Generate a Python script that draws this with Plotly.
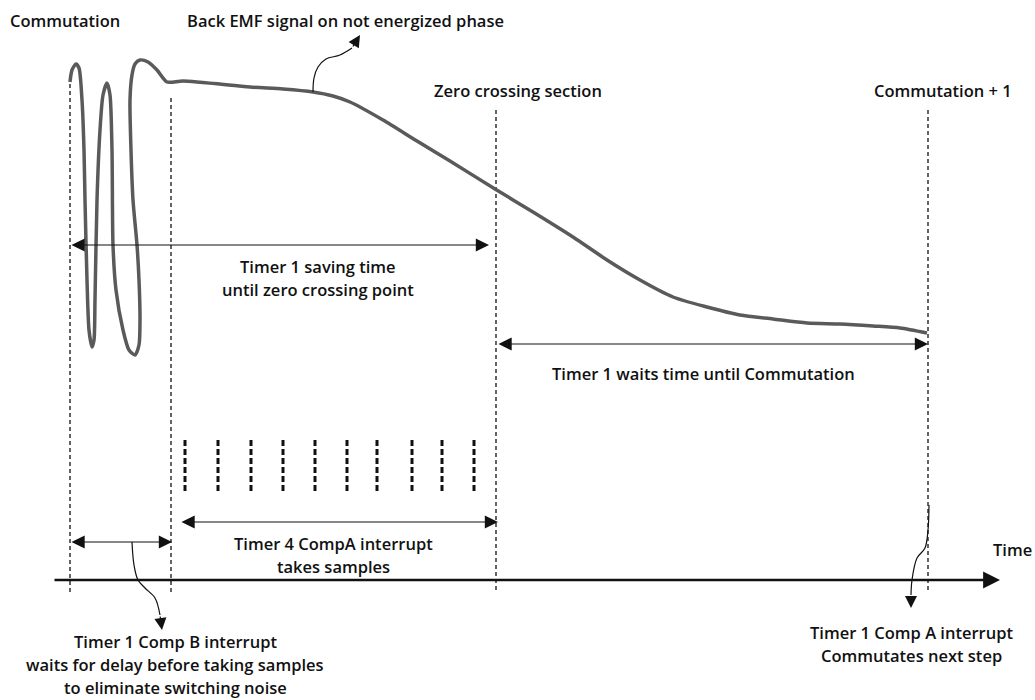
import plotly.graph_objects as go

# Back EMF curve on the not energized phase (diagram pixel space, y down)
curve_x = [70, 72, 76, 79, 82, 84, 85, 87, 89, 92, 94, 95, 97, 100, 103, 107, 110, 112, 113, 116,
           123, 129, 135, 139, 140, 139, 137, 133, 131, 130, 132, 135, 140, 148, 157, 167,
           183, 250, 283, 313, 333, 350, 383, 417, 450, 495, 533, 573, 607, 640, 673, 707,
           740, 773, 807, 840, 873, 900, 927]
curve_y = [82, 70, 64, 68, 100, 150, 200, 280, 330, 347, 340, 300, 200, 130, 95, 83, 95, 150, 245, 290,
           330, 350, 355, 345, 320, 280, 245, 200, 150, 100, 75, 64, 60, 62, 70, 82,
           81, 87, 89, 92, 96, 102, 120, 141, 161, 189, 212, 237, 260, 280, 297, 307,
           315, 319, 323, 324, 326, 328, 333]

# vertical event markers: commutation, end of delay, zero crossing, commutation + 1
event_x = [70, 171, 496, 928]
event_top = [84, 98, 110, 110]
event_bottom = 592

# sample instants of Timer 4 CompA
sample_x = [185, 218, 251, 283, 315, 347, 377, 412, 442, 474]
sample_top, sample_bottom = 440, 493

# time axis
axis_y = 580
axis_start, axis_end = 53, 1000

# double headed spans: (x0, x1, y)
spans = [(70, 489, 245), (497, 928, 344), (180, 498, 522), (70, 172, 542)]

# curly leader lines
emf_lead_x = [313, 314, 318, 326, 340, 352, 360]
emf_lead_y = [92, 78, 67, 59, 55, 48, 35]
compb_lead_x = [132, 134, 138, 145, 155, 160, 162]
compb_lead_y = [542, 565, 580, 588, 598, 615, 630]
compa_lead_x = [929, 928, 925, 917, 912, 911, 911]
compa_lead_y = [505, 530, 548, 558, 580, 595, 608]

# text lines: (text, x, y, anchor)
labels = [
    ("Commutation", 8, 20, "left"),
    ("Back EMF signal on not energized phase", 345, 20, "center"),
    ("Zero crossing section", 518, 90, "center"),
    ("Commutation + 1", 943, 90, "center"),
    ("Timer 1 saving time", 318, 266, "center"),
    ("until zero crossing point", 318, 289, "center"),
    ("Timer 1 waits time until Commutation", 703, 373, "center"),
    ("Timer 4 CompA interrupt", 333, 543, "center"),
    ("takes samples", 333, 566, "center"),
    ("Time", 1012, 549, "center"),
    ("Timer 1 Comp B interrupt", 175, 641, "center"),
    ("waits for delay before taking samples", 175, 664, "center"),
    ("to eliminate switching noise", 175, 687, "center"),
    ("Timer 1 Comp A interrupt", 911, 632, "center"),
    ("Commutates next step", 911, 655, "center"),
]

FONT = "Open Sans"
INK = "#111111"

fig = go.Figure()

# event guides
gx, gy = [], []
for x, top in zip(event_x, event_top):
    gx += [x, x, None]
    gy += [top, event_bottom, None]
fig.add_trace(go.Scatter(x=gx, y=gy, mode="lines",
                         line=dict(color=INK, width=1.3, dash="4px,3px")))

# sample bars
sx, sy = [], []
for x in sample_x:
    sx += [x, x, None]
    sy += [sample_top, sample_bottom, None]
fig.add_trace(go.Scatter(x=sx, y=sy, mode="lines",
                         line=dict(color=INK, width=3, dash="6px,3px")))

# back EMF signal
fig.add_trace(go.Scatter(x=curve_x, y=curve_y, mode="lines",
                         line=dict(color="#5a5a5a", width=3.5, shape="spline", smoothing=0.7)))

# leader lines
for lx, ly in [(emf_lead_x, emf_lead_y), (compb_lead_x, compb_lead_y), (compa_lead_x, compa_lead_y)]:
    fig.add_trace(go.Scatter(x=lx[:-1], y=ly[:-1], mode="lines",
                             line=dict(color=INK, width=1.2, shape="spline")))
    fig.add_annotation(x=lx[-1], y=ly[-1], ax=lx[-2], ay=ly[-2], xref="x", yref="y",
                       axref="x", ayref="y", text="", showarrow=True, arrowhead=2,
                       arrowsize=2.0, arrowwidth=1.2, arrowcolor=INK, standoff=0)

# time axis
fig.add_annotation(x=axis_end, y=axis_y, ax=axis_start, ay=axis_y, xref="x", yref="y",
                   axref="x", ayref="y", text="", showarrow=True, arrowhead=2,
                   arrowsize=1.3, arrowwidth=2.6, arrowcolor=INK, standoff=0)

# double headed spans
for x0, x1, y in spans:
    fig.add_annotation(x=x1, y=y, ax=x0, ay=y, xref="x", yref="y",
                       axref="x", ayref="y", text="", showarrow=True, arrowhead=2,
                       arrowside="end+start", arrowsize=2.2, arrowwidth=1.2,
                       arrowcolor=INK, standoff=0, startstandoff=0)

for text, x, y, anchor in labels:
    fig.add_annotation(x=x, y=y, xref="x", yref="y", text=text, showarrow=False,
                       xanchor=anchor, yanchor="middle", align="center",
                       font=dict(family=FONT, size=16.5, color=INK, weight=600))

fig.update_layout(
    width=1035, height=700,
    margin=dict(l=0, r=0, t=0, b=0),
    paper_bgcolor="white", plot_bgcolor="white",
    showlegend=False,
    xaxis=dict(range=[0, 1035], visible=False, fixedrange=True),
    yaxis=dict(range=[700, 0], visible=False, fixedrange=True),
)

# drop the default 8px body margin so the figure fills the window exactly
fig.write_html("out.html", config={"displayModeBar": False},
               post_script="document.body.style.margin='0';")
